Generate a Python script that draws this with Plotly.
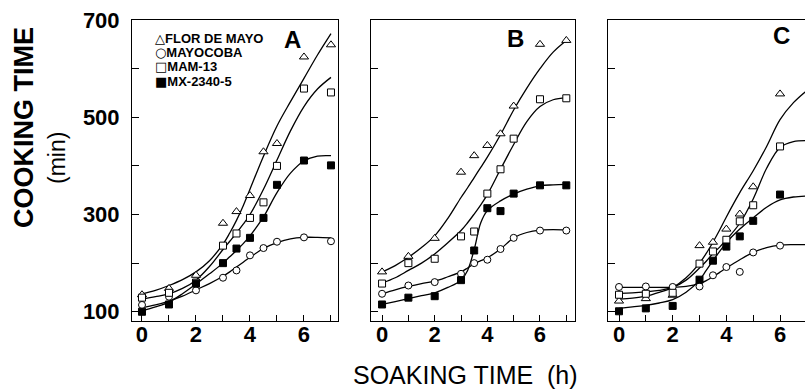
import plotly.graph_objects as go

# ---------------- data ----------------
SERIES = ["FLOR DE MAYO", "MAYOCOBA", "MAM-13", "MX-2340-5"]
LEGEND_GLYPHS = ["△", "○", "□", "■"]

HOURS_AB = [0, 1, 2, 3, 3.5, 4, 4.5, 5, 6, 7]
HOURS_C = [0, 1, 2, 3, 3.5, 4, 4.5, 5, 6]

A_FLOR = [135, 148, 175, 282, 306, 339, 429, 446, 624, 649]
A_MAYO = [114, 131, 144, 170, 185, 216, 231, 244, 253, 245]
A_MAM = [129, 139, 160, 236, 261, 293, 325, 400, 559, 551]
A_MX = [100, 115, 158, 200, 230, 252, 293, 361, 411, 401]

B_FLOR = [182, 214, 251, 387, 421, 442, 466, 523, 650, 658]
B_MAYO = [137, 154, 161, 178, 200, 207, 229, 252, 267, 267]
B_MAM = [158, 200, 209, 255, 265, 343, 393, 456, 537, 539]
B_MX = [115, 129, 132, 165, 226, 313, 307, 343, 360, 360]

C_FLOR = [122, 127, 134, 236, 243, 270, 301, 357, 548]
C_MAYO = [151, 152, 151, 152, 175, 192, 182, 222, 236]
C_MAM = [135, 137, 139, 199, 224, 248, 286, 319, 440]
C_MX = [101, 107, 112, 166, 205, 234, 255, 287, 341]

# fitted curves
FIT_H = [0, 0.5, 1, 1.5, 2, 2.5, 3, 3.25, 3.5, 3.75, 4, 4.5, 5, 5.5, 6, 6.5, 7]

A_FLOR_FIT = [137, 144, 154, 166, 182, 205, 239, 262, 288, 318, 352, 420, 482, 532, 580, 628, 672]
A_MAYO_FIT = [108, 114, 122, 132, 145, 158, 173, 182, 192, 202, 212, 230, 242, 250, 253, 253, 252]
A_MAM_FIT = [126, 131, 137, 148, 165, 193, 228, 245, 262, 280, 300, 352, 412, 472, 522, 558, 582]
A_MX_FIT = [102, 110, 120, 137, 157, 178, 200, 213, 226, 240, 256, 295, 345, 385, 410, 420, 421]

B_FLOR_FIT = [182, 195, 212, 232, 256, 292, 335, 355, 376, 397, 418, 464, 515, 560, 600, 634, 658]
B_MAYO_FIT = [137, 145, 152, 158, 163, 172, 182, 190, 199, 205, 211, 229, 252, 263, 268, 269, 268]
B_MAM_FIT = [159, 170, 185, 200, 219, 242, 267, 283, 301, 320, 341, 393, 444, 491, 522, 536, 540]
B_MX_FIT = [115, 121, 127, 133, 139, 150, 165, 185, 228, 283, 308, 328, 342, 352, 359, 361, 362]

C_FLOR_FIT = [126, 128, 132, 140, 150, 170, 200, 220, 243, 268, 295, 345, 390, 440, 495, 530, 555]
C_MAYO_FIT = [150, 150, 150, 150, 150, 152, 158, 164, 172, 181, 190, 207, 222, 232, 237, 238, 238]
C_MAM_FIT = [138, 139, 141, 144, 150, 165, 190, 204, 220, 233, 248, 282, 332, 395, 438, 450, 452]
C_MX_FIT = [107, 110, 113, 118, 125, 140, 165, 185, 205, 224, 242, 270, 293, 315, 330, 336, 338]

Y_TICKS = [100, 200, 300, 400, 500, 600, 700]
Y_TICKTEXT = ["100", "", "300", "", "500", "", "700"]
X_TICKS = [0, 1, 2, 3, 4, 5, 6, 7]
X_TICKTEXT = ["0", "", "2", "", "4", "", "6", ""]

PANELS = [
    ("A", HOURS_AB, [A_FLOR, A_MAYO, A_MAM, A_MX], [A_FLOR_FIT, A_MAYO_FIT, A_MAM_FIT, A_MX_FIT]),
    ("B", HOURS_AB, [B_FLOR, B_MAYO, B_MAM, B_MX], [B_FLOR_FIT, B_MAYO_FIT, B_MAM_FIT, B_MX_FIT]),
    ("C", HOURS_C, [C_FLOR, C_MAYO, C_MAM, C_MX], [C_FLOR_FIT, C_MAYO_FIT, C_MAM_FIT, C_MX_FIT]),
]

# ---------------- styles ----------------
W, H = 805, 391
FONT = "Liberation Sans, Arial, Helvetica, sans-serif"
MARKERS = [
    dict(symbol="triangle-up", size=8, color="white", line=dict(color="black", width=1)),
    dict(symbol="circle", size=7, color="white", line=dict(color="black", width=1)),
    dict(symbol="square", size=7, color="white", line=dict(color="black", width=1)),
    dict(symbol="square", size=7, color="black", line=dict(color="black", width=1)),
]

X_DOMAINS = [(132 / W, 338 / W), (371 / W, 575 / W), (608 / W, 1.0)]
X_RANGES = [(-0.37, 7.26), (-0.42, 7.33), (-0.41, 6.93)]
Y_DOMAIN = ((H - 321) / H, (H - 20) / H)
Y_RANGE = (81, 700)
LABEL_POS = [(0.777, 0.934), (0.706, 0.937), (0.883, 0.947)]
LEGEND_ROWS_Y = [38, 52.5, 67, 81.5]   # pixel rows of the inset key

fig = go.Figure()

for p, (label, hours, pts, fits) in enumerate(PANELS):
    xa = "x" if p == 0 else f"x{p + 1}"
    ya = "y" if p == 0 else f"y{p + 1}"
    for s in range(4):
        fig.add_trace(go.Scatter(
            x=FIT_H, y=fits[s], mode="lines", line=dict(color="black", width=1.3, shape="spline"),
            xaxis=xa, yaxis=ya, showlegend=False, hoverinfo="skip"))
    for s in range(4):
        fig.add_trace(go.Scatter(
            x=hours, y=pts[s], mode="markers", marker=MARKERS[s], name=SERIES[s],
            xaxis=xa, yaxis=ya, showlegend=False))

    axis_common = dict(showline=True, linecolor="black", linewidth=1, ticks="inside",
                       tickcolor="black", ticklen=7, tickwidth=1, showgrid=False, zeroline=False,
                       automargin=False,
                       tickfont=dict(family=FONT, size=22, color="black", weight="bold"))
    xkey = "xaxis" if p == 0 else f"xaxis{p + 1}"
    ykey = "yaxis" if p == 0 else f"yaxis{p + 1}"
    fig.update_layout(**{
        xkey: dict(axis_common, domain=X_DOMAINS[p], range=X_RANGES[p], anchor=ya,
                   tickvals=X_TICKS, ticktext=X_TICKTEXT, ticklen=6, mirror=True,
                   ticklabelstandoff=-6),
        ykey: dict(axis_common, domain=Y_DOMAIN, range=Y_RANGE, anchor=xa,
                   tickvals=Y_TICKS, ticktext=Y_TICKTEXT, showticklabels=(p == 0),
                   mirror=(p < 2), ticklabelstandoff=7),
    })
    fig.add_annotation(text=label, xref=f"{xa} domain", yref=f"{ya} domain",
                       x=LABEL_POS[p][0], y=LABEL_POS[p][1], xanchor="center", yanchor="middle",
                       showarrow=False,
                       font=dict(family=FONT, size=24, color="black", weight="bold"))

# inset key of panel A
for s in range(4):
    fig.add_annotation(
        text=(f"<span style='font-family:DejaVu Sans;font-weight:normal'>{LEGEND_GLYPHS[s]}</span>"
              f"{SERIES[s]}"),
        xref="paper", yref="paper", x=153 / W, y=(H - LEGEND_ROWS_Y[s]) / H,
        xanchor="left", yanchor="middle", showarrow=False,
        font=dict(family=FONT, size=13, color="black", weight="bold"))

fig.add_annotation(text="COOKING TIME", xref="paper", yref="paper", x=24 / W, y=(H - 128) / H,
                   xanchor="center", yanchor="middle", textangle=-90, showarrow=False,
                   font=dict(family=FONT, size=27, color="black", weight="bold"))
fig.add_annotation(text="(min)", xref="paper", yref="paper", x=57 / W, y=(H - 158) / H,
                   xanchor="center", yanchor="middle", textangle=-90, showarrow=False,
                   font=dict(family=FONT, size=23, color="black"))
fig.add_annotation(text="SOAKING TIME  (h)", xref="paper", yref="paper", x=465 / W, y=0,
                   xanchor="center", yanchor="bottom", showarrow=False,
                   font=dict(family=FONT, size=25, color="black"))

fig.update_layout(
    width=W, height=H, margin=dict(l=0, r=0, t=0, b=0),
    paper_bgcolor="white", plot_bgcolor="white", showlegend=False,
)

fig.write_html("out.html", config={"displayModeBar": False},
               post_script="document.body.style.margin='0';document.body.style.overflow='hidden';")
